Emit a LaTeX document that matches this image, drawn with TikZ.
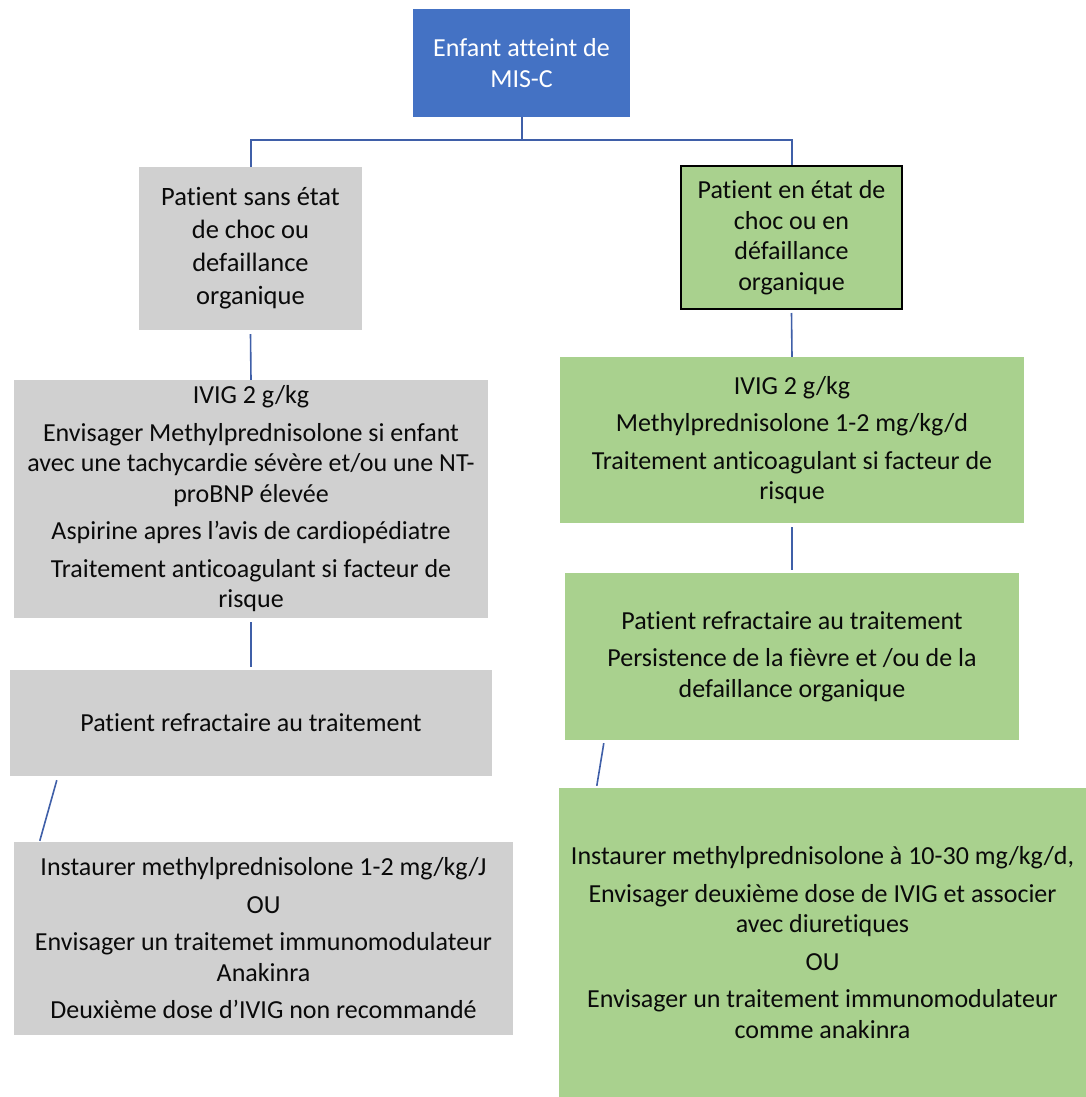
\documentclass[tikz,border=0pt]{standalone}
\usepackage{fontspec}
\setmainfont{Carlito}[Ligatures={TeX,NoCommon}]
\definecolor{topblue}{HTML}{4472C4}
\definecolor{boxgray}{HTML}{D0D0D0}
\definecolor{boxgreen}{HTML}{A9D18E}
\definecolor{linkblue}{HTML}{3F5FA8}
\definecolor{txt}{HTML}{0A0A0A}
\tikzset{
  basebox/.style={rectangle, inner sep=0pt, align=center, text=txt,
    font=\fontsize{26}{30.5}\selectfont},
  topbox/.style={basebox, fill=topblue, text=white},
  graybox/.style={basebox, fill=boxgray},
  greenbox/.style={basebox, fill=boxgreen},
  link/.style={draw=linkblue, line width=2pt},
  thinlink/.style={draw=linkblue, line width=1.6pt},
}
\newcommand{\pgap}{\\[7pt]}
\begin{document}
\begin{tikzpicture}[x=1pt,y=-1pt]
\useasboundingbox (0,0) rectangle (1086,1097);
\fill[white] (0,0) rectangle (1086,1097);

\node[topbox, minimum width=217pt, minimum height=108pt] (top) at (521.5,63)
  {Enfant atteint de\\MIS-C};

\node[graybox, font=\fontsize{26.5}{33}\selectfont, minimum width=223pt, minimum height=163pt] (L1) at (250.5,248.5)
  {Patient sans état\\de choc ou\\defaillance\\organique};
\node[greenbox, draw=black, line width=2pt, minimum width=221pt, minimum height=143pt] (R1) at (791.5,237.5)
  {Patient en état de\\choc ou en\\défaillance\\organique};

\node[graybox, minimum width=474pt, minimum height=238pt] (L2) at (251,499)
  {IVIG 2 g/kg\pgap
   Envisager Methylprednisolone si enfant\\
   avec une tachycardie sévère et/ou une NT-\\
   proBNP élevée\pgap
   Aspirine apres l'avis de cardiopédiatre\pgap
   Traitement anticoagulant si facteur de\\risque};

\node[greenbox, minimum width=464pt, minimum height=166pt] (R2) at (792,440)
  {IVIG 2 g/kg\pgap
   Methylprednisolone 1-2 mg/kg/d\pgap
   Traitement anticoagulant si facteur de\\risque};

\node[greenbox, minimum width=454pt, minimum height=167pt] (R3) at (792,656.5)
  {Patient refractaire au traitement\pgap
   Persistence de la fièvre et /ou de la\\defaillance organique};

\node[graybox, minimum width=482pt, minimum height=106pt] (L3) at (251,723)
  {Patient refractaire au traitement};

\node[graybox, minimum width=499pt, minimum height=193pt] (L4) at (263.5,938.5)
  {Instaurer methylprednisolone 1-2 mg/kg/J\pgap
   OU\pgap
   Envisager un traitemet immunomodulateur\\Anakinra\pgap
   Deuxième dose d'IVIG non recommandé};

\node[greenbox, minimum width=527pt, minimum height=309pt] (R4) at (822.5,942.5)
  {Instaurer methylprednisolone à 10-30 mg/kg/d,\pgap
   Envisager deuxième dose de IVIG et associer\\avec diuretiques\pgap
   OU\pgap
   Envisager un traitement immunomodulateur\\comme anakinra};

\coordinate (j) at (521.5,140);
\draw[link] (top.south) -- (j);
\draw[link] (L1.north) |- (j) -| (R1.north);
\draw[thinlink] ([yshift=-4pt]L1.south) -- (L2.north);
\draw[thinlink] ([yshift=-3pt]R1.south) -- (R2.north);
\draw[thinlink] ([yshift=-4pt]L2.south) -- ([yshift=3pt]L3.north);
\draw[thinlink] ([yshift=-4pt]R2.south) -- ([yshift=3pt]R3.north);
\draw[thinlink] ([xshift=47pt,yshift=-4pt]L3.south west) -- ([xshift=26pt,yshift=1pt]L4.north west);
\draw[thinlink] ([xshift=39pt,yshift=-3pt]R3.south west) -- ([xshift=38pt,yshift=2pt]R4.north west);
\end{tikzpicture}
\end{document}
